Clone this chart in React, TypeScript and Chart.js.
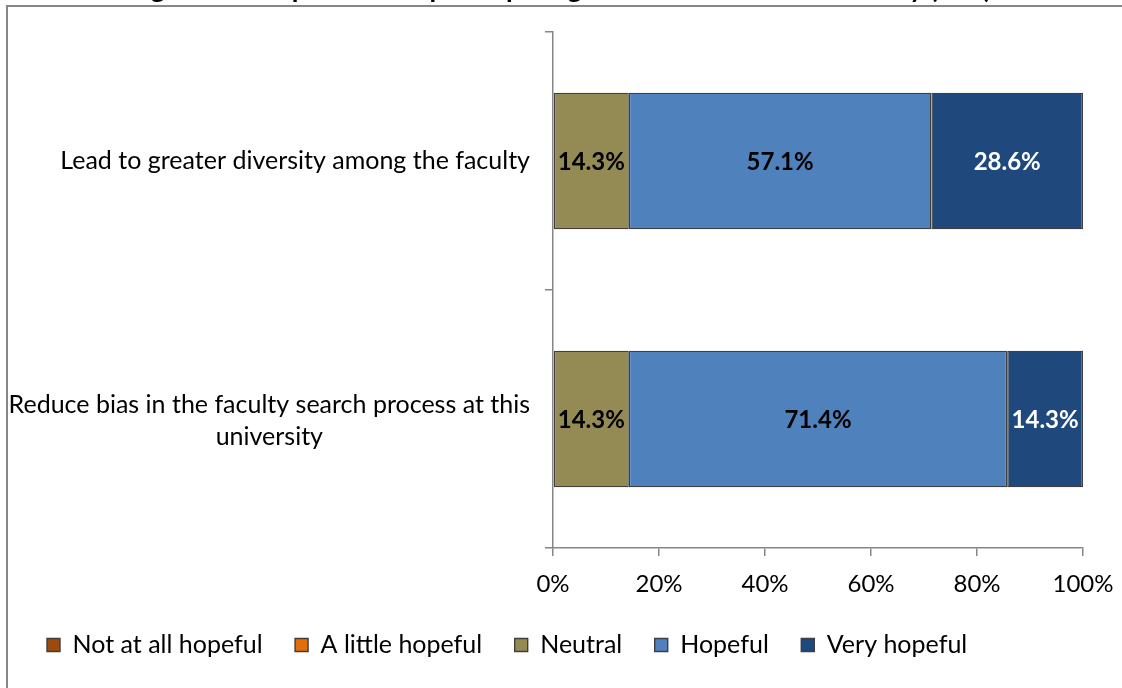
import React, { useEffect, useRef } from 'react';
import { Chart, registerables } from 'chart.js';

Chart.register(...registerables);

// ---- data ----
const titleText = 'Figure 10: Hope that the participating search chairs will aid faculty (n=7)';
const categories: string[][] = [
  ['Lead to greater diversity among the faculty'],
  ['Reduce bias in the faculty search process at this', 'university'],
];
const seriesNames = ['Not at all hopeful', 'A little hopeful', 'Neutral', 'Hopeful', 'Very hopeful'];
const notAtAllHopeful = [0, 0];
const aLittleHopeful = [0, 0];
const neutral = [14.3, 14.3];
const hopeful = [57.1, 71.4];
const veryHopeful = [28.6, 14.3];
const xTickValues = [0, 20, 40, 60, 80, 100];

// ---- styles ----
const seriesColors = ['#9C4A0E', '#E46C0A', '#948A54', '#4F81BD', '#1F497D'];
const labelColors = ['#000000', '#000000', '#000000', '#000000', '#FFFFFF'];
const FONT = 'Lato';
const LABEL_SIZE = 25;
const TICK_SIZE = 24;
const LEGEND_SIZE = 25;
const VALUE_SIZE = 24;
const TITLE_SIZE = 27;
const AXIS_GRAY = '#868686';
const PAD_LEFT = 14.5;
const LEGEND_PAD = 32.5;
const CANVAS_SHIFT = 40;

// Title sits above the visible page; only its descenders peek in at the top.
const titlePlugin = {
  id: 'cutTitle',
  afterDraw(chart: any) {
    const ctx = chart.ctx;
    ctx.save();
    ctx.font = `bold ${TITLE_SIZE}px ${FONT}`;
    ctx.fillStyle = '#000';
    ctx.textAlign = 'center';
    ctx.textBaseline = 'alphabetic';
    ctx.fillText(titleText, 560, CANVAS_SHIFT - 2);
    ctx.restore();
  },
};

const yLabelPlugin = {
  id: 'yLabelPlugin',
  afterDraw(chart: any) {
    const ctx = chart.ctx;
    const yScale = chart.scales.y;
    const right = chart.chartArea.left - 23;
    const lineH = LABEL_SIZE * 1.28;
    ctx.save();
    ctx.font = `${LABEL_SIZE}px ${FONT}`;
    ctx.fillStyle = '#000';
    ctx.textAlign = 'center';
    ctx.textBaseline = 'middle';
    categories.forEach((lines, i) => {
      const cy = yScale.getPixelForValue(i) + (lines.length > 1 ? 2 : 0);
      const blockW = Math.max(...lines.map((l) => ctx.measureText(l).width));
      const cx = right - blockW / 2;
      const startY = cy - ((lines.length - 1) * lineH) / 2;
      lines.forEach((l, j) => ctx.fillText(l, cx, startY + j * lineH));
    });
    ctx.restore();
  },
};

const valueLabelPlugin = {
  id: 'valueLabelPlugin',
  afterDatasetsDraw(chart: any) {
    const ctx = chart.ctx;
    ctx.save();
    ctx.font = `bold ${VALUE_SIZE}px ${FONT}`;
    ctx.textAlign = 'center';
    ctx.textBaseline = 'middle';
    chart.data.datasets.forEach((ds: any, di: number) => {
      const meta = chart.getDatasetMeta(di);
      meta.data.forEach((el: any, i: number) => {
        const v = ds.data[i];
        if (!v) return;
        const p = el.getProps(['x', 'y', 'base'], true);
        ctx.fillStyle = labelColors[di];
        ctx.fillText(`${v.toFixed(1)}%`, (p.x + p.base) / 2, p.y + 1);
      });
    });
    ctx.restore();
  },
};

export default function App() {
  const ref = useRef<HTMLCanvasElement | null>(null);

  useEffect(() => {
    if (!ref.current) return;
    Chart.defaults.font.family = FONT;
    const seriesData = [notAtAllHopeful, aLittleHopeful, neutral, hopeful, veryHopeful];
    const chart = new Chart(ref.current, {
      type: 'bar',
      data: {
        labels: categories.map((c) => c.join(' ')),
        datasets: seriesNames.map((name, i) => ({
          label: name,
          data: seriesData[i],
          backgroundColor: seriesColors[i],
          borderColor: '#3F3F3F',
          borderWidth: 1.4,
          borderSkipped: false,
          barPercentage: 0.53,
          categoryPercentage: 1,
        })),
      },
      options: {
        indexAxis: 'y',
        responsive: false,
        animation: false,
        layout: { padding: { left: PAD_LEFT, right: 39, top: 32 + CANVAS_SHIFT, bottom: 20.5 } },
        scales: {
          x: {
            stacked: true,
            min: 0,
            max: 100,
            afterBuildTicks: (scale: any) => {
              scale.ticks = xTickValues.map((v) => ({ value: v }));
            },
            afterFit: (scale: any) => {
              scale.height = 52;
            },
            ticks: {
              callback: (v: any) => `${v}%`,
              color: '#000',
              font: { size: TICK_SIZE, family: FONT, lineHeight: 2.3 },
              padding: 1,
              maxRotation: 0,
            },
            grid: { drawOnChartArea: false, drawTicks: true, tickLength: 8, color: AXIS_GRAY, lineWidth: 1.5 },
            border: { display: true, color: AXIS_GRAY, width: 1.5 },
          },
          y: {
            stacked: true,
            offset: true,
            afterFit: (scale: any) => {
              scale.width = 553 - PAD_LEFT;
            },
            ticks: { display: false },
            grid: { offset: true, drawOnChartArea: false, drawTicks: true, tickLength: 8, color: AXIS_GRAY, lineWidth: 1.5 },
            border: { display: true, color: AXIS_GRAY, width: 1.5 },
          },
        },
        plugins: {
          title: { display: false },
          legend: {
            position: 'bottom',
            align: 'start',
            labels: {
              boxWidth: 13,
              boxHeight: 13,
              padding: LEGEND_PAD,
              color: '#000',
              font: { size: LEGEND_SIZE, family: FONT },
            },
          },
          tooltip: { enabled: false },
        },
      },
      plugins: [titlePlugin, yLabelPlugin, valueLabelPlugin],
    } as any);
    let alive = true;
    if ((document as any).fonts && (document as any).fonts.load) {
      Promise.all([
        (document as any).fonts.load(`${LABEL_SIZE}px ${FONT}`),
        (document as any).fonts.load(`bold ${VALUE_SIZE}px ${FONT}`),
      ]).then(() => {
        if (alive) chart.update();
      });
    }
    return () => {
      alive = false;
      chart.destroy();
    };
  }, []);

  return (
    <div
      style={{
        position: 'fixed',
        left: 0,
        top: 0,
        width: 1122,
        height: 688,
        overflow: 'hidden',
        background: '#ffffff',
      }}
    >
      <div
        style={{
          position: 'absolute',
          left: 6,
          top: 5,
          width: 2000,
          height: 2000,
          borderLeft: `2px solid ${AXIS_GRAY}`,
          borderTop: `2px solid ${AXIS_GRAY}`,
        }}
      />
      <canvas
        ref={ref}
        width={1122}
        height={688 + CANVAS_SHIFT}
        style={{ position: 'absolute', left: 0, top: -CANVAS_SHIFT, width: 1122, height: 688 + CANVAS_SHIFT }}
      />
    </div>
  );
}
